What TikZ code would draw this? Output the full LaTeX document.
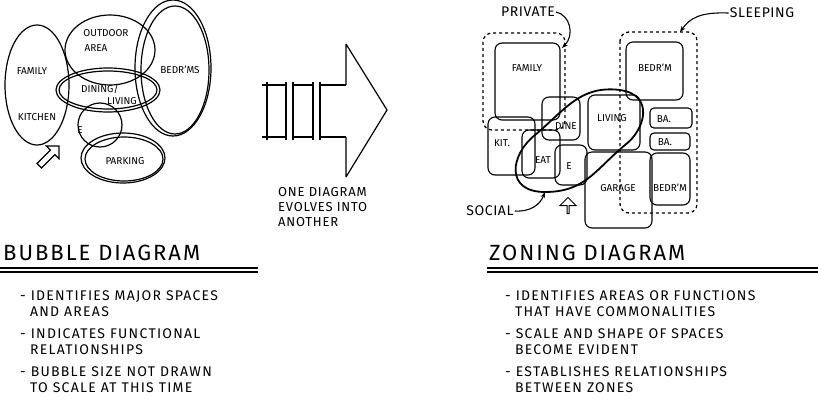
\documentclass[tikz,border=0pt]{standalone}
\usepackage{fontspec}
\setmainfont{Fira Sans}
\usetikzlibrary{arrows.meta,shapes.arrows}
\begin{document}
\begin{tikzpicture}[x=1pt,y=-1pt,
  bub/.style={draw,line width=1.2pt},
  rm/.style={draw,line width=1.1pt,rounded corners=7pt},
  zone/.style={draw,line width=1.3pt,dashed,rounded corners=9pt},
  lbl/.style={font=\fontsize{10}{10}\selectfont,inner sep=0pt},
  ttl/.style={font=\fontsize{22}{22}\selectfont\addfontfeatures{LetterSpace=9},anchor=west,inner sep=0pt},
  txt/.style={font=\fontsize{14}{16}\selectfont\addfontfeatures{LetterSpace=9},anchor=north west,align=left,inner sep=0pt},
  ar/.style={-{Stealth[length=6pt]},line width=1.1pt}]
\useasboundingbox (0,0) rectangle (818,412);
% bubble diagram
\draw[bub] (37,85) ellipse [x radius=32,y radius=60];
\draw[bub] (110,50) ellipse [x radius=45,y radius=35];
\draw[bub] (173,68) ellipse [x radius=38,y radius=68];
\draw[bub] (175,70) ellipse [x radius=34,y radius=64];
\draw[bub] (108,90) ellipse [x radius=52,y radius=22];
\draw[bub] (108,90) ellipse [x radius=49,y radius=19];
\draw[bub] (100,125) circle (22);
\draw[bub] (123,158) ellipse [x radius=42,y radius=25];
\draw[bub] (124,159) ellipse [x radius=39,y radius=22];
\node[lbl] (od) at (106,33) {OUTDOOR};
\node[lbl] (oa) at (96,48) {AREA};
\node[lbl] (fam) at (32,71) {FAMILY};
\node[lbl] (bed) at (180,70) {BEDR'MS};
\node[lbl] (din) at (100,89) {DINING/};
\node[lbl] (liv) at (122,101) {LIVING};
\node[lbl] (kit) at (37,117) {KITCHEN};
\node[lbl] (e1) at (80,130) {E};
\node[lbl] (park) at (125,161) {PARKING};
\node[draw,line width=1.2pt,single arrow,minimum height=28pt,minimum width=18pt,single arrow head extend=3pt,rotate=45,inner sep=1pt] (ent) at (48,157) {};
% middle arrow
\coordinate (a1) at (346,44);\coordinate (a2) at (387,110);\coordinate (a3) at (346,177);
\draw[line width=1.2pt] (262,85)--(287,85) (292,85)--(313,85) (320,85)--(346,85)
  (262,137)--(287,137) (292,137)--(313,137) (320,137)--(346,137);
\draw[line width=1.2pt] (a1)--(a2)--(a3) (a1)--(346,85) (346,137)--(a3);
\foreach \x in {267,286,293,313,320} \draw[line width=1.2pt] (\x,82)--(\x,140);
\node[txt,font=\fontsize{13}{15}\selectfont\addfontfeatures{LetterSpace=6}] (one) at (278,187) {ONE DIAGRAM\\EVOLVES INTO\\ANOTHER};
% zoning diagram
\draw[zone] (483,33) rectangle (565,130);
\draw[zone] (620,32) rectangle (697,213);
\draw[rm] (495,43) rectangle (560,120);
\draw[rm] (626,42) rectangle (683,100);
\draw[rm] (488,117) rectangle (535,175);
\draw[rm] (542,97) rectangle (580,140);
\draw[rm] (588,95) rectangle (640,150);
\draw[rm] (522,130) rectangle (560,178);
\draw[rm] (555,145) rectangle (587,185);
\draw[rm] (585,152) rectangle (652,228);
\draw[rm,rounded corners=4pt] (650,108) rectangle (692,128);
\draw[rm,rounded corners=4pt] (650,133) rectangle (690,150);
\draw[rm] (650,153) rectangle (690,205);
\draw[line width=1.8pt] (545,192) .. controls (505,192) and (510,155) .. (535,135) .. controls (565,110) and (580,85) .. (620,90) .. controls (655,95) and (645,130) .. (625,145) .. controls (595,170) and (585,192) .. (545,192);
\node[lbl] (zfam) at (527,68) {FAMILY};
\node[lbl] (zbed) at (655,68) {BEDR'M};
\node[lbl] (zkit) at (502,143) {KIT.};
\node[lbl] (zdin) at (566,126) {DINE};
\node[lbl] (zliv) at (612,118) {LIVING};
\node[lbl] (zeat) at (543,160) {EAT};
\node[lbl] (ze) at (569,166) {E};
\node[lbl] (zgar) at (618,188) {GARAGE};
\node[lbl] (zba1) at (664,119) {BA.};
\node[lbl] (zba2) at (665,142) {BA.};
\node[lbl] (zbed2) at (670,188) {BEDR'M};
\node[font=\fontsize{14}{14}\selectfont\addfontfeatures{LetterSpace=4},inner sep=1pt] (priv) at (528,12) {PRIVATE};
\node[font=\fontsize{14}{14}\selectfont\addfontfeatures{LetterSpace=4},inner sep=1pt] (sleep) at (762,13) {SLEEPING};
\node[font=\fontsize{14}{14}\selectfont\addfontfeatures{LetterSpace=4},inner sep=1pt] (soc) at (490,211) {SOCIAL};
\coordinate (pz) at (562,48);\coordinate (sz) at (680,32);\coordinate (cz) at (545,192);
\draw[ar] (priv.east) .. controls (570,15) and (575,35) .. (pz);
\draw[ar] (sleep.west) .. controls (700,12) and (690,18) .. (sz);
\draw[ar] (soc.east) .. controls (530,212) and (540,205) .. (cz);
\node[draw,line width=1pt,single arrow,minimum height=16pt,minimum width=12pt,rotate=90,inner sep=0.5pt] (zent) at (568,206) {};
% titles and text
\node[ttl] (t1) at (3,253) {BUBBLE DIAGRAM};
\draw[line width=1.1pt] (0,268)--(258,268) (0,272)--(258,272);
\node[ttl] (t2) at (489,253) {ZONING DIAGRAM};
\draw[line width=1.1pt] (487,268)--(818,268) (487,272)--(818,272);
\node[txt] (b1) at (20,290) {- IDENTIFIES MAJOR SPACES\\\ \ AND AREAS\\[6pt]- INDICATES FUNCTIONAL\\\ \ RELATIONSHIPS\\[6pt]- BUBBLE SIZE NOT DRAWN\\\ \ TO SCALE AT THIS TIME};
\node[txt] (b2) at (505,290) {- IDENTIFIES AREAS OR FUNCTIONS\\\ \ THAT HAVE COMMONALITIES\\[6pt]- SCALE AND SHAPE OF SPACES\\\ \ BECOME EVIDENT\\[6pt]- ESTABLISHES RELATIONSHIPS\\\ \ BETWEEN ZONES};
\end{tikzpicture}
\end{document}
